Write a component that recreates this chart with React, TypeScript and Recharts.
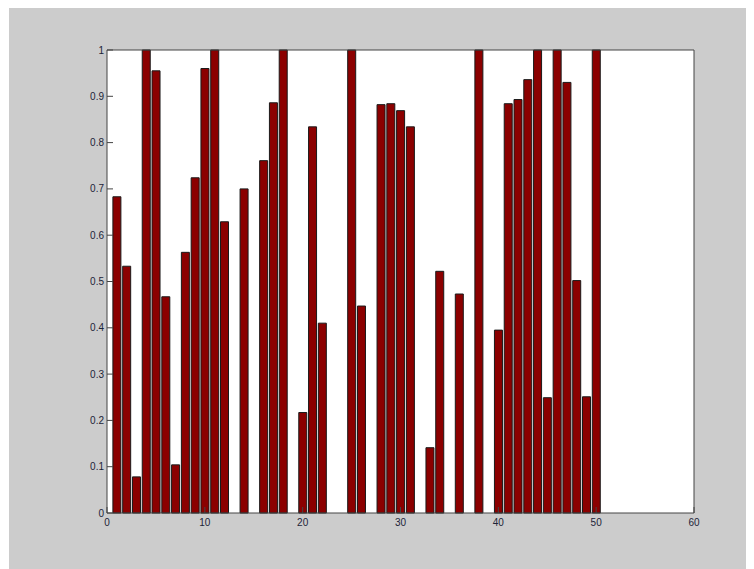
import { BarChart, Bar, XAxis, YAxis, CartesianGrid } from "recharts"

// bar heights, one per position 1..50 (0 = empty slot)
const barValues = [
  0.683, 0.533, 0.078, 1, 0.955, 0.467, 0.104, 0.563, 0.724, 0.96,
  1, 0.629, 0, 0.7, 0, 0.761, 0.886, 1, 0, 0.217,
  0.834, 0.41, 0, 0, 1, 0.447, 0, 0.882, 0.884, 0.869,
  0.834, 0, 0.141, 0.522, 0, 0.473, 0, 1, 0, 0.395,
  0.884, 0.893, 0.936, 1, 0.249, 1, 0.93, 0.502, 0.251, 1,
]

const xTicks = [0, 10, 20, 30, 40, 50, 60]
const yTicks = [0, 0.1, 0.2, 0.3, 0.4, 0.5, 0.6, 0.7, 0.8, 0.9, 1]

const data = barValues.map((v, i) => ({ x: i + 1, v }))

const axisColor = "#444"
const labelStyle = { fontSize: 10, fill: "#1c2438", fontFamily: "Liberation Sans, Arial, sans-serif" }

export default function App() {
  return (
    <div style={{ marginLeft: 1, width: 745, height: 561, background: "#cccccc" }}>
      <BarChart
        width={745}
        height={561}
        data={data}
        margin={{ top: 12, right: 0, bottom: 26, left: 38 }}
      >
        <CartesianGrid horizontal={false} vertical={false} fill="#fff" xAxisId="bottom" yAxisId="left" />
        <XAxis
          xAxisId="bottom"
          dataKey="x"
          type="number"
          domain={[0, 60]}
          ticks={xTicks}
          height={30}
          tickSize={-6}
          tickMargin={12}
          stroke={axisColor}
          tick={labelStyle}
          interval={0}
        />
        <XAxis
          xAxisId="top"
          orientation="top"
          type="number"
          domain={[0, 60]}
          ticks={xTicks}
          height={30}
          tickSize={-6}
          stroke={axisColor}
          tick={false}
        />
        <YAxis
          yAxisId="left"
          type="number"
          domain={[0, 1]}
          ticks={yTicks}
          width={60}
          tickSize={-6}
          tickMargin={9}
          stroke={axisColor}
          tick={labelStyle}
          interval={0}
        />
        <YAxis
          yAxisId="right"
          orientation="right"
          type="number"
          domain={[0, 1]}
          ticks={yTicks}
          width={60}
          tickSize={-6}
          stroke={axisColor}
          tick={false}
        />
        <Bar
          xAxisId="bottom"
          yAxisId="left"
          dataKey="v"
          barSize={8}
          fill="#8b0000"
          stroke="#1a1a1a"
          strokeWidth={1}
          isAnimationActive={false}
        />
      </BarChart>
    </div>
  )
}
